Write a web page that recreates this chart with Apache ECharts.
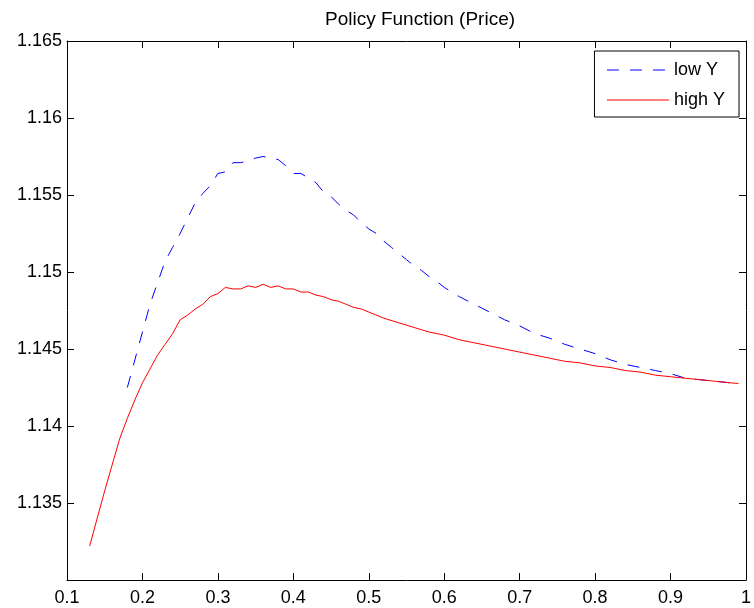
<!DOCTYPE html>
<html>
<head>
<meta charset="utf-8">
<script src="https://cdn.jsdelivr.net/npm/echarts@6/dist/echarts.min.js"></script>
<style>
  html, body { margin: 0; padding: 0; background: #fff; }
  #echart { width: 754px; height: 608px; }
</style>
</head>
<body>
<div id="echart"></div>
<script>
// x grid and price values
const highX = [0.13, 0.15, 0.17, 0.18, 0.19, 0.2, 0.21, 0.22, 0.23, 0.24, 0.25, 0.26, 0.27, 0.28, 0.29,
  0.3, 0.31, 0.32, 0.33, 0.34, 0.35, 0.36, 0.37, 0.38, 0.39, 0.4, 0.41, 0.42, 0.43, 0.44, 0.45,
  0.46, 0.47, 0.48, 0.49, 0.5, 0.52, 0.54, 0.56, 0.58, 0.6, 0.62, 0.64, 0.66, 0.68, 0.7, 0.72,
  0.74, 0.76, 0.78, 0.8, 0.82, 0.84, 0.86, 0.88, 0.9, 0.92, 0.94, 0.96, 0.98, 0.99];
const highY = [1.1322, 1.1358, 1.1392, 1.1405, 1.1417, 1.1428, 1.1437, 1.1446, 1.1453, 1.146, 1.1469,
  1.1472, 1.1476, 1.1479, 1.1484, 1.1486, 1.149, 1.1489, 1.1489, 1.1491, 1.149, 1.1492, 1.149,
  1.1491, 1.1489, 1.1489, 1.1487, 1.1487, 1.1485, 1.1484, 1.1482, 1.1481, 1.1479, 1.1477, 1.1476,
  1.1474, 1.147, 1.1467, 1.1464, 1.1461, 1.1459, 1.1456, 1.1454, 1.1452, 1.145, 1.1448, 1.1446,
  1.1444, 1.1442, 1.1441, 1.1439, 1.1438, 1.1436, 1.1435, 1.1433, 1.1432, 1.1431, 1.143, 1.1429,
  1.1428, 1.14276];

const lowX = [0.18, 0.19, 0.2, 0.21, 0.22, 0.23, 0.24, 0.25, 0.26, 0.27, 0.28, 0.29, 0.3, 0.31, 0.32,
  0.33, 0.34, 0.35, 0.36, 0.37, 0.38, 0.39, 0.4, 0.41, 0.42, 0.43, 0.44, 0.45, 0.46, 0.47, 0.48,
  0.49, 0.5, 0.51, 0.52, 0.53, 0.54, 0.55, 0.56, 0.57, 0.58, 0.59, 0.6, 0.62, 0.64, 0.66, 0.68,
  0.7, 0.72, 0.74, 0.76, 0.78, 0.8, 0.82, 0.84, 0.86, 0.88, 0.9, 0.92, 0.94, 0.96, 0.98, 0.99];
const lowY = [1.1425, 1.1443, 1.1461, 1.1479, 1.1493, 1.1507, 1.1516, 1.1525, 1.1535, 1.1545, 1.1551,
  1.1556, 1.1564, 1.1565, 1.1571, 1.1571, 1.1572, 1.1574, 1.1575, 1.1574, 1.1573, 1.1569, 1.1564,
  1.1564, 1.1561, 1.1558, 1.1552, 1.1549, 1.1544, 1.154, 1.1537, 1.1532, 1.1528, 1.1525, 1.152,
  1.1516, 1.1512, 1.1508, 1.1504, 1.1501, 1.1497, 1.1494, 1.149, 1.1484, 1.1479, 1.1474, 1.1469,
  1.1465, 1.146, 1.1457, 1.1453, 1.145, 1.1447, 1.1443, 1.144, 1.1438, 1.1436, 1.1434, 1.1431,
  1.143, 1.1429, 1.1428, 1.14276];

const xTicks = { min: 0.1, max: 1, interval: 0.1 };
const yTicks = { min: 1.13, max: 1.165, interval: 0.005 };

const font = "Liberation Sans, Arial, Helvetica, sans-serif";

function fmt(v, digits) {
  return String(+v.toFixed(digits));
}

function boxAxis(range, position, showLabel, digits, hideMin) {
  return {
    type: "value",
    position: position,
    min: range.min,
    max: range.max,
    interval: range.interval,
    axisLine: { show: true, onZero: false, lineStyle: { color: "#000", width: 1 } },
    axisTick: { show: true, inside: true, length: 7, lineStyle: { color: "#000" } },
    splitLine: { show: false },
    axisLabel: {
      show: showLabel,
      color: "#000",
      fontSize: 18,
      fontFamily: font,
      margin: position === "bottom" ? 9 : 5,
      formatter: (v) => (hideMin && Math.abs(v - range.min) < 1e-9 ? "" : fmt(v, digits)),
    },
  };
}

let chart = echarts.init(document.getElementById("echart"));
chart.setOption({
  animation: false,
  backgroundColor: "#fff",
  title: {
    text: "Policy Function (Price)",
    left: 415,
    top: 5,
    textAlign: "center",
    textStyle: { color: "#000", fontSize: 19, fontWeight: "normal", fontFamily: font },
  },
  grid: { left: 67, right: 5, top: 41, bottom: 28, containLabel: false },
  xAxis: [
    boxAxis(xTicks, "bottom", true, 1, false),
    boxAxis(xTicks, "top", false, 1, false),
  ],
  yAxis: [
    boxAxis(yTicks, "left", true, 3, true),
    boxAxis(yTicks, "right", false, 3, true),
  ],
  legend: {
    data: ["low Y", "high Y"],
    orient: "vertical",
    right: 15,
    top: 51,
    padding: [10, 14, 8, 12],
    itemWidth: 62,
    itemHeight: 14,
    itemGap: 12,
    itemStyle: { opacity: 0 },
    lineStyle: { width: 1 },
    backgroundColor: "#fff",
    borderColor: "#000",
    borderWidth: 1,
    borderRadius: 0,
    textStyle: { color: "#000", fontSize: 18, fontFamily: font },
  },
  series: [
    {
      name: "low Y",
      type: "line",
      data: lowX.map((x, i) => [x, lowY[i]]),
      symbol: "none",
      color: "#0000ff",
      lineStyle: { color: "#0000ff", width: 1, type: [12, 11] },
    },
    {
      name: "high Y",
      type: "line",
      data: highX.map((x, i) => [x, highY[i]]),
      symbol: "none",
      color: "#ff0000",
      lineStyle: { color: "#ff0000", width: 1 },
    },
  ],
});
</script>
</body>
</html>
